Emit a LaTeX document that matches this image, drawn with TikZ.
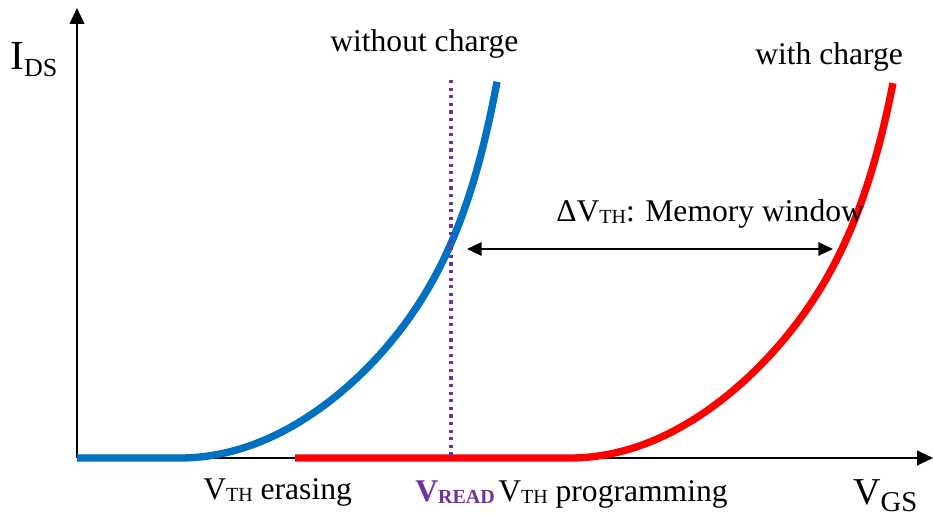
\documentclass[tikz,border=0pt]{standalone}
\usepackage{fontspec}
\setmainfont{Liberation Serif}
\usetikzlibrary{arrows.meta}
\definecolor{cblue}{HTML}{0070C0}
\definecolor{cred}{HTML}{FF0000}
\definecolor{cpurp}{HTML}{7030A0}
\newcommand\mysubs[1]{\raisebox{-1.5pt}{\fontsize{15}{15}\selectfont #1}}
\begin{document}
\begin{tikzpicture}[x=0.75pt,y=-0.75pt,
  axisline/.style={line width=1.5pt, -{Triangle[length=12pt,width=11pt]}},
  curveblue/.style={cblue, line width=5.5pt},
  curvered/.style={cred, line width=5.5pt},
  readline/.style={cpurp, line width=2.3pt, dash pattern=on 2.4pt off 3.3pt},
  winarrow/.style={line width=1.5pt, {Triangle[length=11pt,width=10pt]}-{Triangle[length=11pt,width=10pt]}},
  lbl/.style={anchor=base west, inner sep=0pt, font=\fontsize{23.7}{28}\selectfont}]
\useasboundingbox (0,0) rectangle (933,516);
\coordinate (O) at (77,458);
\coordinate (ytip) at (77,8);
\coordinate (xtip) at (933,458);
\draw[axisline] (O) -- (ytip);
\draw[axisline] (O) -- (xtip);
% curves
\coordinate (bstart) at (77,458);
\coordinate (bknee) at (180,458);
\draw[curveblue] (bstart) -- (bknee) -- plot[domain=180:497, samples=120]
  (\x, {458 - 0.25*((\x-180)/10)^2 - 125*exp((\x-497)/33)});
\coordinate (rstart) at (295,458);
\coordinate (rknee) at (570,458);
\draw[curvered] (rstart) -- (rknee) -- plot[domain=570:893, samples=120]
  (\x, {458 - 0.25*((\x-570)/10)^2 - 114*exp((\x-893)/33)});
% read voltage line
\coordinate (vtop) at (451,80);
\coordinate (vbot) at (451,458);
\draw[readline] (vtop) -- (vbot);
% memory window
\coordinate (wl) at (467,249);
\coordinate (wr) at (833,249);
\draw[winarrow] (wl) -- (wr);
% labels
\node[anchor=base west, inner sep=0pt] (ids) at (10,70) {\fontsize{31}{31}\selectfont I\raisebox{-5pt}{\fontsize{19.5}{20}\selectfont DS}};
\node[anchor=base west, inner sep=0pt] (vgs) at (853,505) {\fontsize{28.5}{30}\selectfont V\raisebox{-5pt}{\fontsize{21.5}{22}\selectfont GS}};
\node[lbl] (wo) at (330,52) {without charge};
\node[lbl] (wc) at (755,65) {with charge};
\node[lbl] (mw) at (556,222) {ΔV\mysubs{TH}: Memory window};
\node[lbl] (er) at (203,500) {V\mysubs{TH} erasing};
\node[lbl, text=cpurp] (vr) at (415,502) {\bfseries V\raisebox{-1.5pt}{\fontsize{15}{15}\selectfont\bfseries READ}};
\node[lbl] (pg) at (498,502) {V\mysubs{TH} programming};
\end{tikzpicture}
\end{document}
